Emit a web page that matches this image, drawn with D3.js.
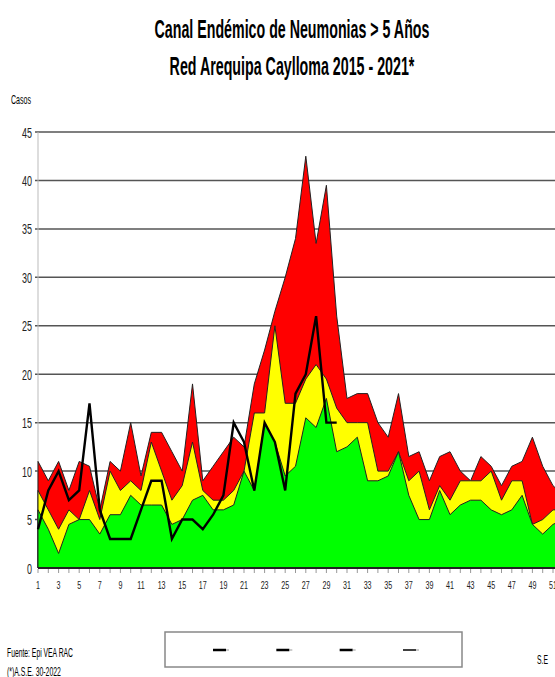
<!DOCTYPE html>
<html>
<head>
<meta charset="utf-8">
<script src="https://cdn.jsdelivr.net/npm/d3@7"></script>
<style>
  body { margin: 0; background: #fff; }
  text { font-family: "Liberation Sans", Arial, sans-serif; }
</style>
</head>
<body>
<svg id="chart" width="555" height="677"></svg>
<script>
// semanas epidemiologicas
let weeks = d3.range(1, 53);

// canal endemico (limites de cada zona)
let alarma = [11, 9, 11, 8, 11, 10.5, 6, 11, 10, 15, 9.5, 14, 14, 12, 10, 19, 9, 10.5, 12, 13.5,
  12.5, 19, 22.5, 26.5, 30, 34, 42.5, 33.5, 39.5, 26, 17.5, 18, 18, 15, 13.5, 18, 11.5, 12, 9, 11.5,
  12, 10, 9, 11.5, 10.5, 8.5, 10.5, 11, 13.5, 10.5, 8.5, 7.5];
let seguridad = [8, 6, 4, 6, 5, 8, 5, 10, 8, 9, 8, 13, 10, 7, 8.5, 13, 8, 7, 7, 8,
  10, 16, 16, 25, 17, 17, 19.5, 21, 19.5, 16.5, 15, 15, 15, 10, 10, 12, 9, 10, 6, 8.5,
  7, 9, 9, 9, 10, 7, 9, 9, 4.5, 5, 6, 6];
let exito = [6, 4, 1.5, 4.5, 5, 5, 3.5, 5.5, 5.5, 7.5, 6.5, 6.5, 6.5, 4.5, 5, 7, 7.5, 6, 6, 6.5,
  10, 8, 15, 13, 9.5, 10.5, 15.5, 14.5, 17.5, 12, 12.5, 13.5, 9, 9, 9.5, 12, 7.5, 5, 5, 8,
  5.5, 6.5, 7, 7, 6, 5.5, 6, 7.5, 4.5, 3.5, 4.5, 5];

// casos del año (hasta la S.E. 30)
let casos = [4, 8, 10, 7, 8, 17, 6, 3, 3, 3, 6, 9, 9, 3, 5, 5, 4, 5.5, 7.5, 15,
  13, 8, 15, 13, 8, 18, 20, 26, 15, 15];

let yTicks = [0, 5, 10, 15, 20, 25, 30, 35, 40, 45];
let xLabels = weeks.filter(w => w % 2 == 1);
let legendItems = ["Éxito", "Seguridad", "Alarma", "Casos"];

let svg = d3.select("#chart");

let x = d3.scaleLinear().domain([1, 52]).range([38, 563.3]);
let y = d3.scaleLinear().domain([0, 45]).range([568, 132]);

// texto angosto (la fuente original es condensada)
function narrow(sel, px, py, sx) {
  sel.attr("x", 0).attr("y", 0)
    .attr("transform", "translate(" + px + "," + py + ") scale(" + sx + ",1)");
  return sel;
}
function fitWidth(sel, px, py, w) {
  let len = sel.node().getComputedTextLength();
  return narrow(sel, px, py, w / len);
}

// titulo
fitWidth(svg.append("text")
  .attr("text-anchor", "middle")
  .attr("font-weight", "bold")
  .attr("font-size", 25)
  .text("Canal Endémico de Neumonias > 5 Años"), 292, 38, 275);
fitWidth(svg.append("text")
  .attr("text-anchor", "middle")
  .attr("font-weight", "bold")
  .attr("font-size", 25)
  .text("Red Arequipa Caylloma 2015 - 2021*"), 292, 75, 245);

fitWidth(svg.append("text")
  .attr("font-size", 13)
  .text("Casos"), 11, 104, 20);

// grid
svg.append("g")
  .selectAll("line")
  .data(yTicks.filter(d => d > 0))
  .enter()
  .append("line")
  .attr("x1", 35).attr("x2", 555)
  .attr("y1", d => y(d)).attr("y2", d => y(d))
  .style("stroke", "#555")
  .style("stroke-width", 1.5);

svg.append("line")
  .attr("x1", x(1)).attr("x2", x(1))
  .attr("y1", y(45)).attr("y2", y(0))
  .style("stroke", "#bbb");

svg.append("g")
  .selectAll("text")
  .data(yTicks)
  .enter()
  .append("text")
  .attr("text-anchor", "end")
  .attr("font-size", 15)
  .attr("fill", "#222")
  .text(d => d)
  .each(function(d) { narrow(d3.select(this), 32, y(d) + 5.5, 0.6); });

// zonas del canal
let area = vals => d3.area()
  .x((d, i) => x(weeks[i]))
  .y0(y(0))
  .y1(d => y(d))(vals);

let zones = [
  { vals: alarma, color: "#ff0000" },
  { vals: seguridad, color: "#ffff00" },
  { vals: exito, color: "#00ff00" }
];

svg.append("g")
  .selectAll("path")
  .data(zones)
  .enter()
  .append("path")
  .attr("d", d => area(d.vals))
  .attr("fill", d => d.color)
  .style("stroke", "#222")
  .style("stroke-width", 1)
  .style("stroke-linejoin", "round");

// linea de casos
svg.append("path")
  .datum(casos)
  .attr("d", d3.line().x((d, i) => x(weeks[i])).y(d => y(d)))
  .attr("fill", "none")
  .style("stroke", "#000")
  .style("stroke-width", 2.4)
  .style("stroke-linejoin", "miter");

// eje x
svg.append("line")
  .attr("x1", x(1)).attr("x2", 555)
  .attr("y1", y(0)).attr("y2", y(0))
  .style("stroke", "#222")
  .style("stroke-width", 2);

svg.append("g")
  .selectAll("line")
  .data(weeks)
  .enter()
  .append("line")
  .attr("x1", d => x(d)).attr("x2", d => x(d))
  .attr("y1", y(0) + 1).attr("y2", y(0) + 5)
  .style("stroke", "#999");

svg.append("g")
  .selectAll("text")
  .data(xLabels)
  .enter()
  .append("text")
  .attr("text-anchor", "middle")
  .attr("font-size", 11)
  .attr("fill", "#222")
  .text(d => d)
  .each(function(d) { narrow(d3.select(this), x(d), 589, 0.65); });

// pie
fitWidth(svg.append("text").attr("font-size", 13)
  .text("Fuente: Epi VEA RAC"), 7, 657, 66);
fitWidth(svg.append("text").attr("font-size", 13)
  .text("(*)A.S.E. 30-2022"), 7, 676, 54);
fitWidth(svg.append("text").attr("font-size", 13)
  .text("S.E"), 537, 664, 11);

// leyenda
svg.append("rect")
  .attr("x", 165).attr("y", 632)
  .attr("width", 297).attr("height", 35)
  .attr("fill", "#fff")
  .style("stroke", "#888")
  .style("stroke-width", 1.5);

let legendX = d3.scalePoint().domain(legendItems).range([213, 403]);
let legendG = svg.append("g")
  .selectAll("g")
  .data(legendItems)
  .enter()
  .append("g")
  .attr("transform", d => "translate(" + legendX(d) + ",650)");
legendG.append("line")
  .attr("x1", 0).attr("x2", 13)
  .style("stroke", "#000")
  .style("stroke-width", (d, i) => i == 3 ? 1.5 : 2.5);
legendG.append("line")
  .attr("x1", 13).attr("x2", 16)
  .style("stroke", "#999")
  .style("stroke-width", 1);
</script>
</body>
</html>
